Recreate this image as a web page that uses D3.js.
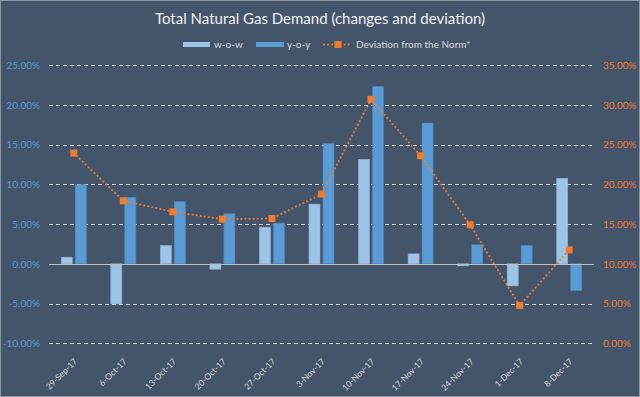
<!DOCTYPE html>
<html><head><meta charset="utf-8">
<script src="https://cdn.jsdelivr.net/npm/d3@7"></script>
<style>
html,body{margin:0;padding:0;background:#44546a;}
svg{display:block;font-family:Lato,"Open Sans",sans-serif;}
</style></head>
<body>
<svg id="c" width="640" height="397"></svg>
<script>
const categories = ["29-Sep-17","6-Oct-17","13-Oct-17","20-Oct-17","27-Oct-17","3-Nov-17","10-Nov-17","17-Nov-17","24-Nov-17","1-Dec-17","8-Dec-17"];
const wow = [0.84, -5.04, 2.31, -0.67, 4.62, 7.52, 13.15, 1.26, -0.25, -2.77, 10.76];
const yoy = [9.96, 8.36, 7.82, 6.30, 5.13, 15.13, 22.31, 17.73, 2.39, 2.31, -3.36];
const deviation = [23.95, 17.94, 16.55, 15.63, 15.71, 18.78, 30.71, 23.61, 14.92, 4.75, 11.76];
const leftTicks = [-10, -5, 0, 5, 10, 15, 20, 25];
const rightTicks = [0, 5, 10, 15, 20, 25, 30, 35];
const seriesNames = ["w-o-w", "y-o-y", "Deviation from the Norm*"];
const title = "Total Natural Gas Demand (changes and deviation)";

const C = {bg:"#44546a", wow:"#9dc3e6", yoy:"#5b9bd5", dev:"#ed7d31", grid:"#d9d9d9", text:"#d9d9d9"};
const svg = d3.select("#c");
svg.append("rect").attr("x",0.5).attr("y",0.5).attr("width",639).attr("height",396)
  .attr("fill",C.bg).attr("stroke","#8c96a3").attr("stroke-width",1);

const L = 49, R = 594, T = 65.3, B = 343.3;
const x = d3.scaleBand().domain(categories).range([L,R]).padding(0);
const yL = d3.scaleLinear().domain([-10,25]).range([B,T]);
const yR = d3.scaleLinear().domain([0,35]).range([B,T]);
const barW = 11, gap = 1.5;
const cx = d => x(d) + x.bandwidth()/2;

// title
svg.append("text").attr("x",320).attr("y",24).attr("text-anchor","middle")
  .attr("fill","#f2f2f2").attr("font-size",15).text(title);

// gridlines
const g = svg.append("g");
g.selectAll("line.grid").data(leftTicks.filter(t=>t!==0)).join("line")
  .attr("x1",L).attr("x2",R).attr("y1",d=>Math.round(yL(d))+0.5).attr("y2",d=>Math.round(yL(d))+0.5)
  .attr("stroke",C.grid).attr("stroke-width",1).attr("stroke-dasharray","4,3");

// left axis
const axL = d3.axisLeft(yL).tickValues(leftTicks).tickSize(0).tickPadding(0).tickFormat(d=>d.toFixed(2)+"%");
const gL = svg.append("g").attr("transform",`translate(${L-9},0)`).call(axL);
gL.select(".domain").remove();
gL.selectAll("text").attr("fill",C.yoy).attr("font-size",10).attr("font-family","Lato,sans-serif");

// right axis
const axR = d3.axisRight(yR).tickValues(rightTicks).tickSize(0).tickPadding(0).tickFormat(d=>d.toFixed(2)+"%");
const gR = svg.append("g").attr("transform",`translate(${R+9},0)`).call(axR);
gR.select(".domain").remove();
gR.selectAll("text").attr("fill",C.dev).attr("font-size",10).attr("font-family","Lato,sans-serif");

// bars
svg.append("g").selectAll("rect").data(categories.map((c,i)=>({c,v:wow[i]}))).join("rect")
  .attr("x",d=>cx(d.c)-gap-barW).attr("width",barW)
  .attr("y",d=>yL(Math.max(0,d.v))).attr("height",d=>Math.abs(yL(d.v)-yL(0)))
  .attr("fill",C.wow).attr("stroke","#8fb3d6").attr("stroke-width",0.6);
svg.append("g").selectAll("rect").data(categories.map((c,i)=>({c,v:yoy[i]}))).join("rect")
  .attr("x",d=>cx(d.c)+gap).attr("width",barW)
  .attr("y",d=>yL(Math.max(0,d.v))).attr("height",d=>Math.abs(yL(d.v)-yL(0)))
  .attr("fill",C.yoy).attr("stroke","#5289bd").attr("stroke-width",0.6);

// zero line
svg.append("line").attr("x1",L).attr("x2",R).attr("y1",Math.round(yL(0))+0.5).attr("y2",Math.round(yL(0))+0.5)
  .attr("stroke","#bfbfbf").attr("stroke-width",1.2);

// deviation line
const pts = categories.map((c,i)=>[cx(c), yR(deviation[i])]);
svg.append("path").attr("d", d3.line().curve(d3.curveLinear)(pts))
  .attr("fill","none").attr("stroke",C.dev).attr("stroke-width",2)
  .attr("stroke-dasharray","0.1,4").attr("stroke-linecap","round");
svg.append("g").selectAll("rect").data(pts).join("rect")
  .attr("x",d=>d[0]-3.5).attr("y",d=>d[1]-3.5).attr("width",7).attr("height",7)
  .attr("fill",C.dev);

// x labels
svg.append("g").selectAll("text").data(categories).join("text")
  .attr("transform",d=>`translate(${cx(d)+4},${362}) rotate(-45)`)
  .attr("text-anchor","end").attr("fill",C.text).attr("font-size",8.5).text(d=>d);

// legend
const lg = svg.append("g").attr("font-size",10).attr("fill",C.text);
lg.append("rect").attr("x",183).attr("y",42).attr("width",27).attr("height",5).attr("fill",C.wow);
lg.append("text").attr("x",214).attr("y",48).text(seriesNames[0]);
lg.append("rect").attr("x",256).attr("y",42).attr("width",28).attr("height",5).attr("fill",C.yoy);
lg.append("text").attr("x",287).attr("y",48).text(seriesNames[1]);
lg.append("line").attr("x1",324).attr("x2",352).attr("y1",44.5).attr("y2",44.5)
  .attr("stroke",C.dev).attr("stroke-width",2).attr("stroke-dasharray","0.1,4").attr("stroke-linecap","round");
lg.append("rect").attr("x",334.5).attr("y",41).attr("width",7).attr("height",7).attr("fill",C.dev);
lg.append("text").attr("x",356).attr("y",48).text(seriesNames[2]);
</script>
</body></html>
